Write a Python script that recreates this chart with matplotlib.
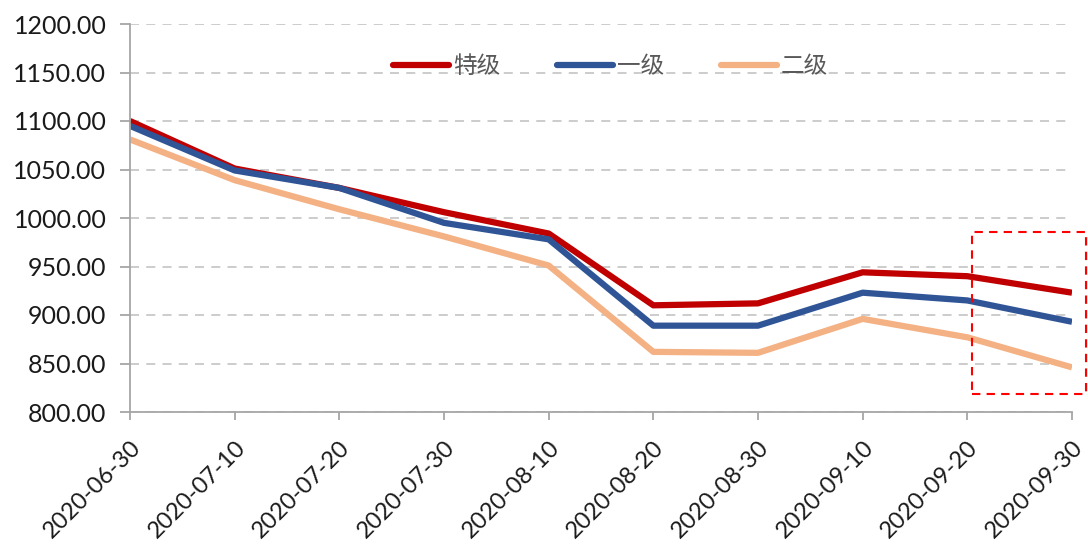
import matplotlib
matplotlib.use("Agg")
import matplotlib.pyplot as plt
from matplotlib.patches import Rectangle

plt.rcParams['font.family'] = ['Noto Sans CJK SC', 'DejaVu Sans']

dates = ["2020-06-30", "2020-07-10", "2020-07-20", "2020-07-30", "2020-08-10",
         "2020-08-20", "2020-08-30", "2020-09-10", "2020-09-20", "2020-09-30"]
special = [1100, 1051, 1031, 1006, 984, 910, 912, 944, 940, 923]
grade1 = [1095, 1049, 1031, 995, 978, 889, 889, 923, 915, 893]
grade2 = [1081, 1039, 1009, 981, 951, 862, 861, 896, 877, 846]
yticks = [800, 850, 900, 950, 1000, 1050, 1100, 1150, 1200]

fig = plt.figure(figsize=(10.88, 5.47), dpi=100)
ax = fig.add_axes([130/1088, 1-412/547, (1072-130)/1088, (412-24)/547])

x = list(range(len(dates)))
ax.plot(x, special, color='#C00000', lw=4.5, label='特级', solid_capstyle='butt')
ax.plot(x, grade1, color='#2F5597', lw=4.5, label='一级', solid_capstyle='butt')
ax.plot(x, grade2, color='#F4B183', lw=4.5, label='二级', solid_capstyle='butt')

ax.set_xlim(0, len(dates)-1)
ax.set_ylim(800, 1200)
ax.set_yticks(yticks)
ax.set_yticklabels([f"{v:.2f}" for v in yticks], fontsize=18, color='#1A1A1A',
                   family=['Lato', 'DejaVu Sans'])
ax.set_xticks(x)
ax.set_xticklabels(dates, rotation=45, ha='right', rotation_mode='anchor', fontsize=17,
                   color='#1A1A1A', family=['Lato', 'DejaVu Sans'])
ax.yaxis.grid(True, linestyle=(0, (5, 4)), color='#C8C8C8', lw=1.3)
ax.set_axisbelow(True)
for s in ['top', 'right']:
    ax.spines[s].set_visible(False)
for s in ['left', 'bottom']:
    ax.spines[s].set_color('#A6A6A6')
    ax.spines[s].set_linewidth(1.3)
ax.tick_params(axis='y', length=7, color='#A6A6A6', width=1.3, pad=10)
ax.tick_params(axis='x', length=6, color='#A6A6A6', width=1.3, direction='out', pad=12)

leg = ax.legend(loc='upper center', bbox_to_anchor=(0.51, 0.975), ncol=3, frameon=False,
                fontsize=17, handlelength=2.4, columnspacing=2.4, handletextpad=0.15)
for t in leg.get_texts():
    t.set_color('#595959')
for h in leg.get_lines():
    h.set_solid_capstyle('round')

rect = Rectangle((972/1088, 1-394/547), (1086-972)/1088, (394-232)/547,
                 transform=fig.transFigure, fill=False, edgecolor='#FF0000',
                 lw=1.5, linestyle=(0, (4, 3)))
fig.patches.append(rect)

fig.savefig("out.png", dpi=100)
